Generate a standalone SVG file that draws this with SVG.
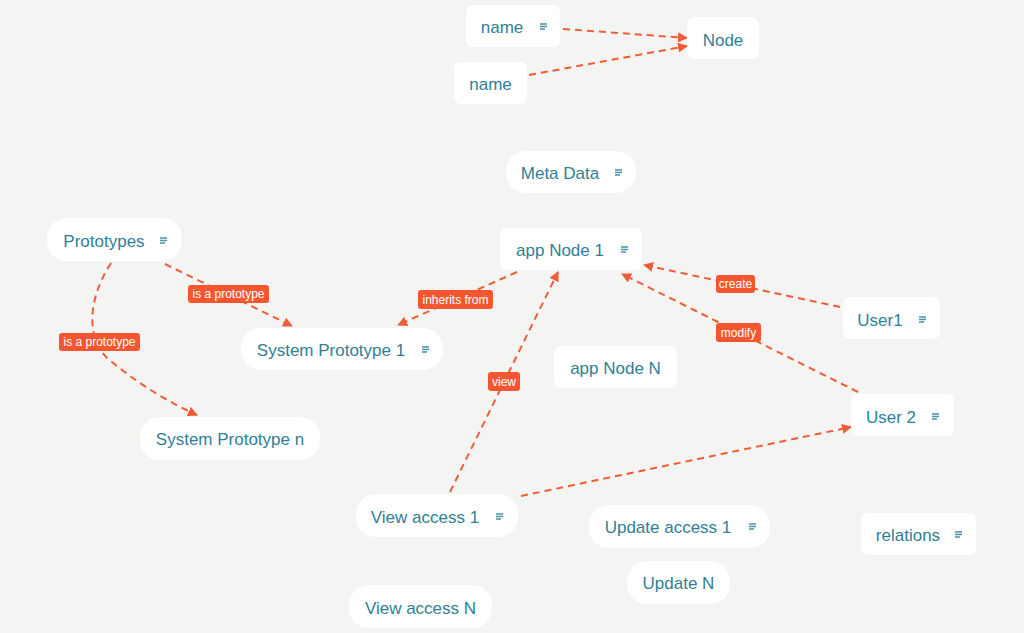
<svg xmlns="http://www.w3.org/2000/svg" width="1024" height="633" viewBox="0 0 1024 633">
<defs>
<style>
.n{fill:#ffffff}
.t{font-family:"Liberation Sans",Arial,sans-serif;font-size:17px;fill:#2f7f96;text-anchor:middle;dominant-baseline:central}
.e{fill:none;stroke:#f05c36;stroke-width:2;stroke-dasharray:7 5}
.lb{fill:#f4572f}
.lt{font-family:"Liberation Sans",Arial,sans-serif;font-size:12px;fill:#ffffff;text-anchor:middle;dominant-baseline:central}
.ic{stroke:#4a93a8;stroke-width:1.3}
</style>
<marker id="ah" viewBox="0 0 10 10" refX="9" refY="5" markerWidth="10" markerHeight="10" markerUnits="userSpaceOnUse" orient="auto">
<path d="M0,0 L10,5 L0,10 Z" fill="#f05c36"/>
</marker>
<g id="icon"><path class="ic" d="M0,0h7M0,2.5h7M0,5h5"/></g>
</defs>
<rect width="1024" height="633" fill="#f4f5f3"/>
<g id="connectors">
<path class="e" d="M563,29 L687,38" marker-end="url(#ah)"/>
<path class="e" d="M529,75 L687,46" marker-end="url(#ah)"/>
<path class="e" d="M165,264 L292,326" marker-end="url(#ah)"/>
<path class="e" d="M111,263 C84,305 88,345 112,362 C140,385 170,403 197,415" marker-end="url(#ah)"/>
<path class="e" d="M517,272 L398,325" marker-end="url(#ah)"/>
<path class="e" d="M450,492 L558,272" marker-end="url(#ah)"/>
<path class="e" d="M840,307 L644,265" marker-end="url(#ah)"/>
<path class="e" d="M858,392 L622,274" marker-end="url(#ah)"/>
<path class="e" d="M521,496 L851,427" marker-end="url(#ah)"/>
<g id="labels">
<rect class="lb" x="188" y="285" width="81" height="18" rx="3"/><text class="lt" x="228.5" y="294">is a prototype</text>
<rect class="lb" x="59" y="333" width="81" height="18" rx="3"/><text class="lt" x="99.5" y="342">is a prototype</text>
<rect class="lb" x="418" y="290" width="75" height="19" rx="3"/><text class="lt" x="455.5" y="299.5">inherits from</text>
<rect class="lb" x="716" y="275" width="39" height="18" rx="3"/><text class="lt" x="735.5" y="284">create</text>
<rect class="lb" x="716" y="323" width="45" height="19" rx="3"/><text class="lt" x="738.5" y="332.5">modify</text>
<rect class="lb" x="488" y="372" width="32" height="19" rx="3"/><text class="lt" x="504" y="381.5">view</text>
</g>
</g>
<g id="node-name1"><rect class="n" x="466" y="5" width="94" height="42" rx="7"/><text class="t" x="502" y="27">name</text><use href="#icon" x="540" y="24"/></g>
<g id="node-name2"><rect class="n" x="454" y="62" width="73" height="42" rx="7"/><text class="t" x="490.5" y="84">name</text></g>
<g id="node-node"><rect class="n" x="687" y="17" width="72" height="42" rx="7"/><text class="t" x="723" y="40">Node</text></g>
<g id="node-meta"><rect class="n" x="506" y="151" width="130" height="42" rx="20"/><text class="t" x="560" y="173">Meta Data</text><use href="#icon" x="615" y="170"/></g>
<g id="node-prototypes"><rect class="n" x="47" y="218" width="135" height="43" rx="20"/><text class="t" x="104" y="241">Prototypes</text><use href="#icon" x="160" y="238"/></g>
<g id="node-app1"><rect class="n" x="500" y="228" width="142" height="42" rx="7"/><text class="t" x="560" y="250">app Node 1</text><use href="#icon" x="621" y="247"/></g>
<g id="node-sp1"><rect class="n" x="241" y="328" width="202" height="42" rx="20"/><text class="t" x="331" y="350">System Prototype 1</text><use href="#icon" x="422" y="347"/></g>
<g id="node-user1"><rect class="n" x="843" y="297" width="97" height="42" rx="7"/><text class="t" x="880" y="320">User1</text><use href="#icon" x="919" y="317"/></g>
<g id="node-appN"><rect class="n" x="554" y="346" width="123" height="42" rx="7"/><text class="t" x="615.5" y="368">app Node N</text></g>
<g id="node-spn"><rect class="n" x="140" y="417" width="180" height="43" rx="20"/><text class="t" x="230" y="439">System Prototype n</text></g>
<g id="node-user2"><rect class="n" x="851" y="394" width="103" height="42" rx="7"/><text class="t" x="891" y="417">User 2</text><use href="#icon" x="932" y="414"/></g>
<g id="node-va1"><rect class="n" x="356" y="494" width="162" height="43" rx="20"/><text class="t" x="425" y="517">View access 1</text><use href="#icon" x="496" y="514"/></g>
<g id="node-ua1"><rect class="n" x="589" y="505" width="181" height="43" rx="20"/><text class="t" x="668" y="527">Update access 1</text><use href="#icon" x="749" y="524"/></g>
<g id="node-relations"><rect class="n" x="861" y="513" width="115" height="42" rx="7"/><text class="t" x="908" y="535">relations</text><use href="#icon" x="955" y="532"/></g>
<g id="node-updN"><rect class="n" x="627" y="561" width="103" height="43" rx="20"/><text class="t" x="678.5" y="583">Update N</text></g>
<g id="node-vaN"><rect class="n" x="349" y="585" width="143" height="43" rx="20"/><text class="t" x="420.5" y="608">View access N</text></g>
</svg>
